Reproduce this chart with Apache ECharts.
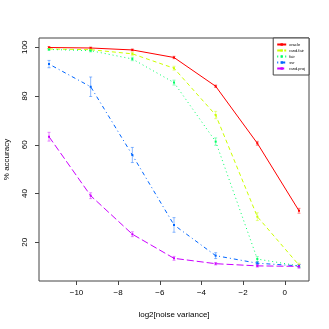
<!DOCTYPE html>
<html>
<head>
<meta charset="utf-8">
<script src="https://cdn.jsdelivr.net/npm/echarts@6/dist/echarts.min.js"></script>
<style>
  html, body { margin: 0; padding: 0; background: #fff; }
  #chart { width: 329px; height: 329px; }
</style>
</head>
<body>
<div id="chart"></div>
<script>
// x positions: log2 of noise variance
const xVals = [-11.32, -9.32, -7.32, -5.32, -3.32, -1.32, 0.68];
const xTicks = [-10, -8, -6, -4, -2, 0];
const yTicks = [20, 40, 60, 80, 100];

const names = ['oracle', 'rand.fair', 'fair', 'svr', 'rand.proj'];
const colors = ['#FF0000', '#CCFF00', '#00FF66', '#0066FF', '#CC00FF'];
const dashes = ['solid', [4, 3], [1, 3], [1, 3, 4, 3], [7, 3]];

const oracle = [99.9, 99.7, 98.9, 95.8, 84.0, 60.6, 32.9];
const oracleErr = [0.4, 0.4, 0.4, 0.5, 0.5, 0.8, 1.0];
const randFair = [99.3, 99.0, 97.3, 91.4, 72.2, 30.5, 10.6];
const randFairErr = [0.3, 0.3, 0.6, 0.8, 1.5, 1.6, 0.8];
const fair = [99.1, 98.6, 95.2, 85.5, 61.3, 13.1, 10.3];
const fairErr = [0.3, 0.5, 0.7, 1.0, 1.5, 1.0, 0.5];
const svr = [93.1, 83.8, 55.8, 27.1, 14.5, 11.4, 10.3];
const svrErr = [1.5, 4.0, 3.1, 3.0, 1.2, 0.6, 0.5];
const randProj = [63.3, 39.1, 23.3, 13.4, 11.2, 10.3, 10.1];
const randProjErr = [1.8, 1.2, 1.0, 0.8, 0.5, 0.5, 0.8];

const values = [oracle, randFair, fair, svr, randProj];
const errs = [oracleErr, randFairErr, fairErr, svrErr, randProjErr];

const font = 'Liberation Sans';
const chart = echarts.init(document.getElementById('chart'));

const series = [];
names.forEach((name, i) => {
  series.push({
    name: name,
    type: 'line',
    data: xVals.map((x, j) => [x, values[i][j]]),
    symbol: 'rect',
    symbolSize: 2,
    itemStyle: { color: colors[i] },
    lineStyle: { color: colors[i], width: 1, type: dashes[i] },
    z: 3
  });
  // error bars
  series.push({
    type: 'custom',
    data: xVals.map((x, j) => [x, values[i][j] - errs[i][j], values[i][j] + errs[i][j]]),
    renderItem: (params, api) => {
      const lo = api.coord([api.value(0), api.value(1)]);
      const hi = api.coord([api.value(0), api.value(2)]);
      const c = 1.5;
      const st = { stroke: colors[i], lineWidth: 1, opacity: 0.45 };
      return {
        type: 'group',
        children: [
          { type: 'line', shape: { x1: lo[0], y1: lo[1], x2: hi[0], y2: hi[1] }, style: st },
          { type: 'line', shape: { x1: lo[0] - c, y1: lo[1], x2: lo[0] + c, y2: lo[1] }, style: st },
          { type: 'line', shape: { x1: hi[0] - c, y1: hi[1], x2: hi[0] + c, y2: hi[1] }, style: st }
        ]
      };
    },
    silent: true,
    z: 2
  });
});

chart.setOption({
  animation: false,
  backgroundColor: '#fff',
  textStyle: { fontFamily: font },
  grid: {
    left: 39, top: 38, right: 20, bottom: 48,
    outerBoundsMode: 'none',
    containLabel: false,
    show: true, borderColor: '#444', borderWidth: 1
  },
  legend: {
    data: names,
    orient: 'vertical',
    right: 20,
    top: 38,
    itemWidth: 9,
    itemHeight: 3,
    itemGap: 1,
    padding: [4, 4, 4, 3],
    borderColor: '#444',
    borderWidth: 1,
    backgroundColor: '#fff',
    textStyle: { fontFamily: font, fontSize: 4, color: '#000', padding: [0, 0, 0, -2], lineHeight: 5 }
  },
  xAxis: {
    type: 'value',
    min: -11.8,
    max: 1.16,
    name: 'log2[noise variance]',
    nameLocation: 'middle',
    nameGap: 30,
    nameTextStyle: { fontFamily: font, fontSize: 8, color: '#000' },
    axisLine: { show: false, onZero: false },
    splitLine: { show: false },
    axisTick: { show: true, length: 4, lineStyle: { color: '#444' }, customValues: xTicks },
    axisLabel: {
      fontFamily: font, fontSize: 8, color: '#000', margin: 8,
      customValues: xTicks,
      formatter: v => String(v).replace('-', '\u2212')
    }
  },
  yAxis: {
    type: 'value',
    min: 4.1,
    max: 103.8,
    name: '% accuracy',
    nameLocation: 'middle',
    nameRotate: 90,
    nameGap: 28,
    nameTextStyle: { fontFamily: font, fontSize: 8, color: '#000' },
    axisLine: { show: false, onZero: false },
    splitLine: { show: false },
    axisTick: { show: true, length: 4, lineStyle: { color: '#444' }, customValues: yTicks },
    axisLabel: {
      fontFamily: font, fontSize: 8, color: '#000', margin: 10, rotate: 90,
      customValues: yTicks
    }
  },
  series: series
});
</script>
</body>
</html>
